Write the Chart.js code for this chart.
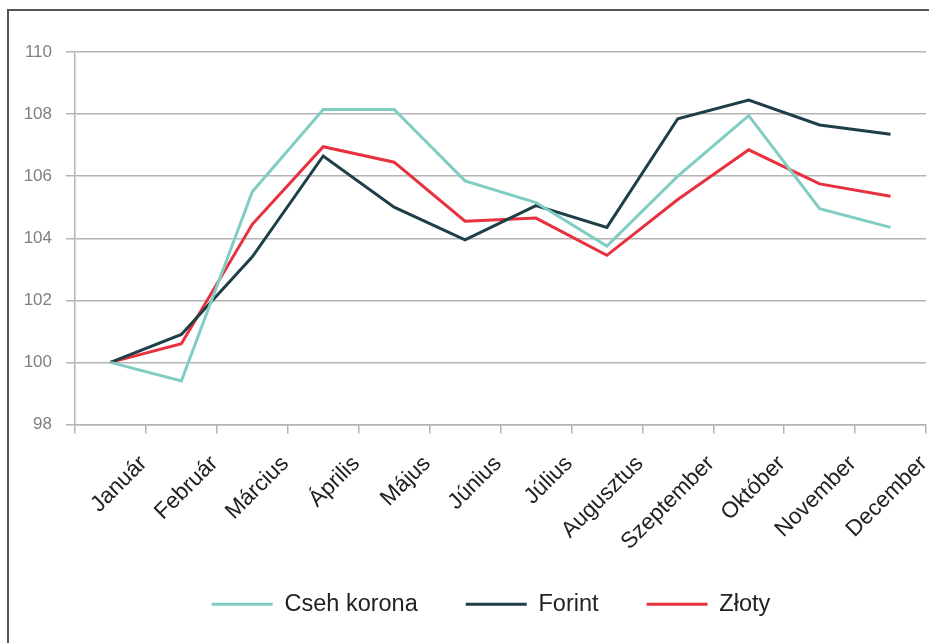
<!DOCTYPE html>
<html>
<head>
<meta charset="utf-8">
<script src="https://cdn.jsdelivr.net/npm/chart.js@4"></script>
<style>
  body { margin: 0; background: #fff; overflow: hidden; }
  #frame { position: absolute; left: 7px; top: 9px; width: 1000px; height: 1000px;
           border-left: 2px solid #555; border-top: 2px solid #555; }
  #wrap { position: absolute; left: 0; top: 0; width: 929px; height: 643px; }
</style>
</head>
<body>
<div id="frame"></div>
<div id="wrap"><canvas id="myChart" width="929" height="643"></canvas></div>
<script>
var months = ["Január", "Február", "Március", "Április", "Május", "Június",
    "Július", "Augusztus", "Szeptember", "Október", "November", "December"];
var cseh = [100, 99.4, 105.5, 108.15, 108.15, 105.85, 105.15, 103.75, 106.0, 107.95, 104.95, 104.35];
var forint = [100, 100.9, 103.4, 106.65, 105.0, 103.95, 105.05, 104.35, 107.85, 108.45, 107.65, 107.35];
var zloty = [100, 100.6, 104.45, 106.95, 106.45, 104.55, 104.65, 103.45, 105.25, 106.85, 105.75, 105.35];
var yTicks = [98, 100, 102, 104, 106, 108, 110];

var font = "'Liberation Sans', Arial, sans-serif";
var grid = '#b4b4b4';

function line(label, data, color) {
    return {
        label: label,
        data: data,
        borderColor: color,
        backgroundColor: color,
        borderWidth: 3,
        pointRadius: 0,
        tension: 0
    };
}

// legend sits a bit right of centre in the original, and the rotated
// month names need more room than the axis box gives them
var nudge = {
    id: 'nudge',
    afterLayout: function (c) {
        c.legend.left += 36;
        c.scales.x.bottom += 40;
    }
};

var ctx = document.getElementById("myChart");

var chart = new Chart(ctx, {
    type: 'line',
    data: {
        labels: months,
        datasets: [
            line('Cseh korona', cseh, '#7fcdc3'),
            line('Forint', forint, '#1e3f48'),
            line('Złoty', zloty, '#e8313f')
        ]
    },
    plugins: [nudge],
    options: {
        responsive: false,
        animation: false,
        layout: { padding: { top: 52, left: 20, right: 3, bottom: 17 } },
        scales: {
            x: {
                offset: true,
                grid: { offset: true, drawOnChartArea: false, drawTicks: true, tickLength: 9, color: grid, lineWidth: 1.5 },
                border: { color: grid, width: 1.5 },
                ticks: {
                    autoSkip: false, minRotation: 45, maxRotation: 45,
                    labelOffset: 33, padding: 17,
                    color: '#222', font: { family: font, size: 22.5 }
                },
                afterFit: function (s) { s.height = 120; }
            },
            y: {
                min: 98, max: 110,
                afterBuildTicks: function (s) { s.ticks = yTicks.map(function (v) { return { value: v }; }); },
                grid: { color: grid, lineWidth: 1.5, tickLength: 9 },
                border: { color: grid, width: 1.5 },
                ticks: { padding: 14, color: '#808080', font: { family: font, size: 17 } },
                afterFit: function (s) { s.width = 55; }
            }
        },
        plugins: {
            legend: {
                position: 'bottom',
                labels: {
                    usePointStyle: true,
                    pointStyle: 'line',
                    pointStyleWidth: 61,
                    padding: 48,
                    color: '#222',
                    font: { family: font, size: 23.5 }
                }
            },
            tooltip: { enabled: false }
        }
    }
});
</script>
</body>
</html>
